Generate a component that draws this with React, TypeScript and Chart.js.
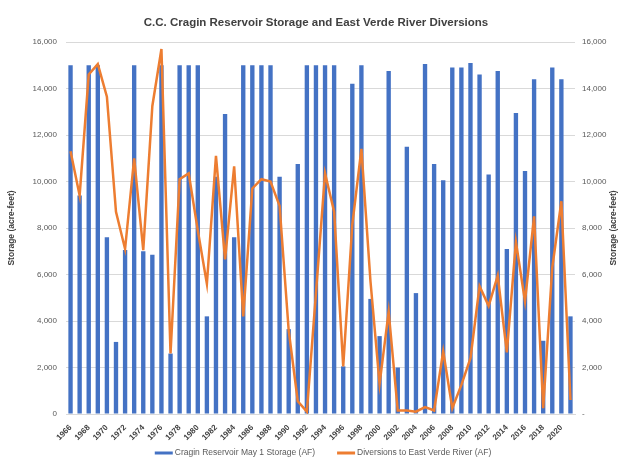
import { useEffect, useRef } from "react";
import { Chart, registerables } from "chart.js";

Chart.register(...registerables);

const TITLE = "C.C. Cragin Reservoir Storage and East Verde River Diversions";
const AXIS_TITLE = "Storage (acre-feet)";
const SERIES_NAMES = ["Cragin Reservoir May 1 Storage (AF)", "Diversions to East Verde River (AF)"];

const years = [
  1966, 1967, 1968, 1969, 1970, 1971, 1972, 1973, 1974, 1975,
  1976, 1977, 1978, 1979, 1980, 1981, 1982, 1983, 1984, 1985,
  1986, 1987, 1988, 1989, 1990, 1991, 1992, 1993, 1994, 1995,
  1996, 1997, 1998, 1999, 2000, 2001, 2002, 2003, 2004, 2005,
  2006, 2007, 2008, 2009, 2010, 2011, 2012, 2013, 2014, 2015,
  2016, 2017, 2018, 2019, 2020, 2021,
];

const storage = [
  15000, 9400, 15000, 15000, 7600, 3100, 7050, 15000, 7000, 6850,
  15000, 2600, 15000, 15000, 15000, 4200, 10200, 12900, 7600, 15000,
  15000, 15000, 15000, 10200, 3650, 10750, 15000, 15000, 15000, 15000,
  2050, 14200, 15000, 4950, 3350, 14750, 2000, 11500, 5200, 15050,
  10750, 10050, 14900, 14900, 15100, 14600, 10300, 14750, 7100, 12950,
  10450, 14400, 3150, 14900, 14400, 4200,
];

const diversions = [
  11300, 9400, 14600, 15050, 13650, 8700, 7100, 11000, 7050, 13250,
  15700, 2600, 10100, 10350, 7900, 5600, 11100, 6650, 10650, 4200,
  9700, 10100, 10000, 8950, 3600, 550, 100, 5200, 10350, 8700,
  2050, 8150, 11400, 5700, 1300, 4400, 150, 150, 100, 300,
  150, 2700, 250, 1250, 2400, 5500, 4650, 5950, 2650, 7400,
  4850, 8500, 250, 6300, 9150, 600,
];

const Y_MIN = 0;
const Y_MAX = 16000;
const Y_STEP = 2000;

const BLUE = "#4472C4";
const ORANGE = "#ED7D31";
const FONT = '"Liberation Sans", Arial, sans-serif';

const textPlugin = {
  id: "customTexts",
  afterDraw(chart: any) {
    const ctx = chart.ctx as CanvasRenderingContext2D;
    const a = chart.chartArea;
    ctx.save();
    ctx.fillStyle = "#404040";
    ctx.textBaseline = "middle";
    ctx.textAlign = "center";
    ctx.font = `bold 11.5px ${FONT}`;
    ctx.fillText(TITLE, 316, 23);

    const cy = (a.top + a.bottom) / 2;
    ctx.font = `bold 8.5px ${FONT}`;
    ctx.fillStyle = "#404040";
    ctx.save();
    ctx.translate(12, cy);
    ctx.rotate(-Math.PI / 2);
    ctx.fillText(AXIS_TITLE, 0, 0);
    ctx.restore();
    ctx.save();
    ctx.translate(614, cy);
    ctx.rotate(-Math.PI / 2);
    ctx.fillText(AXIS_TITLE, 0, 0);
    ctx.restore();

    // legend
    ctx.font = `8.5px ${FONT}`;
    ctx.fillStyle = "#595959";
    ctx.textAlign = "left";
    const colors = [BLUE, ORANGE];
    const lineW = 18;
    const gapText = 2;
    const gapItem = 22;
    const widths = SERIES_NAMES.map((s) => ctx.measureText(s).width);
    const total = widths.reduce((p, w) => p + lineW + gapText + w, 0) + gapItem;
    let x = 323 - total / 2;
    const ly = 453;
    SERIES_NAMES.forEach((s, i) => {
      ctx.strokeStyle = colors[i];
      ctx.lineWidth = 3;
      ctx.beginPath();
      ctx.moveTo(x, ly);
      ctx.lineTo(x + lineW, ly);
      ctx.stroke();
      ctx.fillText(s, x + lineW + gapText, ly);
      x += lineW + gapText + widths[i] + gapItem;
    });
    ctx.restore();
  },
};

export default function App() {
  const ref = useRef<HTMLCanvasElement | null>(null);

  useEffect(() => {
    document.body.style.margin = "0";
    const canvas = ref.current;
    if (!canvas) return;
    const chart = new Chart(canvas, {
      type: "bar",
      data: {
        labels: years.map(String),
        datasets: [
          {
            type: "line",
            label: SERIES_NAMES[1],
            data: diversions,
            borderColor: ORANGE,
            backgroundColor: ORANGE,
            borderWidth: 2.5,
            pointRadius: 0,
            tension: 0,
            yAxisID: "y",
            order: 0,
          } as any,
          {
            type: "bar",
            label: SERIES_NAMES[0],
            data: storage,
            backgroundColor: BLUE,
            barPercentage: 0.48,
            categoryPercentage: 1,
            yAxisID: "y",
            order: 1,
          },
        ],
      },
      options: {
        animation: false,
        responsive: false,
        maintainAspectRatio: false,
        layout: { padding: { top: 42, left: 0, right: 0, bottom: 0 } },
        plugins: {
          legend: { display: false },
          title: { display: false },
          tooltip: { enabled: false },
        },
        scales: {
          x: {
            type: "category",
            offset: true,
            grid: { display: false },
            border: { display: true, color: "#d9d9d9" },
            ticks: {
              autoSkip: false,
              minRotation: 45,
              maxRotation: 45,
              padding: 1,
              color: "#404040",
              font: { size: 8, weight: "bold", family: FONT },
              callback: (_v: any, i: number) => (years[i] % 2 === 0 ? String(years[i]) : ""),
            },
            afterFit: (s: any) => {
              s.height = 47;
            },
          },
          y: {
            position: "left",
            min: Y_MIN,
            max: Y_MAX,
            ticks: {
              stepSize: Y_STEP,
              padding: 9,
              color: "#595959",
              font: { size: 8, family: FONT },
              callback: (v: any) => Number(v).toLocaleString("en-US"),
            },
            grid: { color: "#d9d9d9", drawTicks: false },
            border: { display: false },
            afterFit: (s: any) => {
              s.width = 66;
            },
          },
          y2: {
            position: "right",
            min: Y_MIN,
            max: Y_MAX,
            ticks: {
              stepSize: Y_STEP,
              padding: 7,
              color: "#595959",
              font: { size: 8, family: FONT },
              callback: (v: any) => (Number(v) === 0 ? "-" : Number(v).toLocaleString("en-US")),
            },
            grid: { display: false, drawTicks: false },
            border: { display: false },
            afterFit: (s: any) => {
              s.width = 51;
            },
          },
        },
      } as any,
      plugins: [textPlugin],
    });
    return () => chart.destroy();
  }, []);

  return (
    <canvas
      ref={ref}
      width={626}
      height={461}
      style={{ display: "block", width: 626, height: 461 }}
    />
  );
}
